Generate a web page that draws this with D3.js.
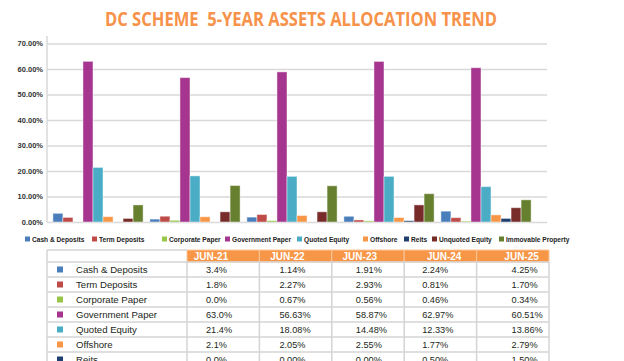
<!DOCTYPE html>
<html>
<head>
<meta charset="utf-8">
<script src="https://cdn.jsdelivr.net/npm/d3@7"></script>
<style>
body { margin: 0; background: #fff; }
svg { display: block; }
</style>
</head>
<body>
<svg id="chart" width="624" height="361"></svg>
<script>
// ---- data ----
const years = ["JUN-21", "JUN-22", "JUN-23", "JUN-24", "JUN-25"];
const seriesNames = ["Cash & Deposits", "Term Deposits", "Corporate Paper", "Government Paper",
    "Quoted Equity", "Offshore", "Reits", "Unquoted Equity", "Immovable Property"];

// bar heights (%)
const cashDeposits = [3.4, 1.14, 1.91, 2.24, 4.25];
const termDeposits = [1.8, 2.27, 2.93, 0.81, 1.70];
const corporatePaper = [0.0, 0.67, 0.56, 0.46, 0.34];
const governmentPaper = [63.0, 56.63, 58.87, 62.97, 60.51];
const quotedEquity = [21.4, 18.08, 17.9, 17.9, 13.86];
const offshore = [2.1, 2.05, 2.55, 1.77, 2.79];
const reits = [0.0, 0.0, 0.0, 0.5, 1.4];
const unquotedEquity = [1.4, 4.0, 4.0, 6.7, 5.6];
const immovableProperty = [6.7, 14.3, 14.2, 11.1, 8.7];

const yTicks = [0, 10, 20, 30, 40, 50, 60, 70];

// table text
const tableRows = ["Cash & Deposits", "Term Deposits", "Corporate Paper", "Government Paper",
    "Quoted Equity", "Offshore", "Reits"];
const tableCash = ["3.4%", "1.14%", "1.91%", "2.24%", "4.25%"];
const tableTerm = ["1.8%", "2.27%", "2.93%", "0.81%", "1.70%"];
const tableCorporate = ["0.0%", "0.67%", "0.56%", "0.46%", "0.34%"];
const tableGovernment = ["63.0%", "56.63%", "58.87%", "62.97%", "60.51%"];
const tableQuoted = ["21.4%", "18.08%", "14.48%", "12.33%", "13.86%"];
const tableOffshore = ["2.1%", "2.05%", "2.55%", "1.77%", "2.79%"];
const tableReits = ["0.0%", "0.00%", "0.00%", "0.50%", "1.50%"];

// ---- styles / layout ----
const colors = ["#4a7ebb", "#be4b48", "#98c649", "#a5358f", "#4bacc6",
    "#f79646", "#1f3f6e", "#772c2a", "#66802f"];
const legendX = [25, 92, 162, 225, 297, 363, 404, 432, 499];
const valueOffset = [19, 20, 24, 18, 35];
const headerOffset = [24, 28, 28, 40, 45];

const allSeries = [cashDeposits, termDeposits, corporatePaper, governmentPaper,
    quotedEquity, offshore, reits, unquotedEquity, immovableProperty];
const tableValues = [tableCash, tableTerm, tableCorporate, tableGovernment,
    tableQuoted, tableOffshore, tableReits];

const svg = d3.select("#chart");
svg.append("rect").attr("width", 624).attr("height", 361).attr("fill", "#fff");

// title (two spaces kept as in the source)
svg.append("text")
    .attr("x", 301).attr("y", 26)
    .attr("text-anchor", "middle")
    .attr("textLength", 392).attr("lengthAdjust", "spacingAndGlyphs")
    .style("white-space", "pre")
    .style("font-family", "'Open Sans', sans-serif")
    .style("font-weight", "bold")
    .style("font-size", "20px")
    .style("fill", "#f7924a")
    .text("DC SCHEME  5-YEAR ASSETS ALLOCATION TREND");

// scales
const y = d3.scaleLinear().domain([0, 70]).range([222, 43.5]);
const x0 = d3.scaleBand().domain(years).range([49.5, 534.5]).paddingInner(0.07).paddingOuter(0.035);
const x1 = d3.scaleBand().domain(d3.range(seriesNames.length)).range([0, x0.bandwidth()]).padding(0);

// grid + y axis
const yAxis = svg.append("g")
    .attr("transform", "translate(47,0)")
    .call(d3.axisLeft(y).tickValues(yTicks).tickSize(-500).tickPadding(4)
        .tickFormat(d => d.toFixed(2) + "%"));
yAxis.select(".domain").remove();
yAxis.selectAll("line").attr("stroke", "#d9d9d9").attr("stroke-width", 1.5);
yAxis.selectAll("text")
    .style("font-family", "'Liberation Sans', Arial, sans-serif")
    .style("font-weight", "bold")
    .style("font-size", "7.5px")
    .style("fill", "#333");

svg.append("line")
    .attr("x1", 47).attr("x2", 47).attr("y1", 36).attr("y2", 222)
    .attr("stroke", "#d9d9d9").attr("stroke-width", 1.5);

// bars
const groups = svg.append("g").selectAll("g")
    .data(years)
    .join("g")
    .attr("transform", d => `translate(${x0(d)},0)`);

groups.selectAll("rect")
    .data((d, gi) => allSeries.map((s, si) => ({ si: si, v: s[gi] })))
    .join("rect")
    .filter(d => d.v > 0)
    .attr("x", d => x1(d.si))
    .attr("y", d => y(d.v))
    .attr("width", x1.bandwidth())
    .attr("height", d => y(0) - y(d.v))
    .attr("fill", d => colors[d.si])
    .attr("stroke", "rgba(255,255,255,0.45)")
    .attr("stroke-width", 1);

// legend
const legend = svg.append("g").selectAll("g")
    .data(seriesNames)
    .join("g")
    .attr("transform", (d, i) => `translate(${legendX[i]},239)`);
legend.append("rect")
    .attr("x", 0).attr("y", -2.5).attr("width", 5).attr("height", 5)
    .attr("fill", (d, i) => colors[i]);
legend.append("text")
    .attr("x", 7).attr("y", 2.5)
    .style("font-family", "'Liberation Sans', Arial, sans-serif")
    .style("font-weight", "bold")
    .style("font-size", "6.6px")
    .style("fill", "#222")
    .text(d => d);

// table
const col = d3.scaleBand().domain(years).range([187, 549]).padding(0);
const headTop = 250, headH = 12, rowH = 15;
const tableG = svg.append("g");

tableG.selectAll("rect.head")
    .data(years)
    .join("rect")
    .attr("class", "head")
    .attr("x", d => col(d)).attr("y", headTop)
    .attr("width", col.bandwidth()).attr("height", headH)
    .attr("fill", "#f79646")
    .attr("stroke", "#fbc79c").attr("stroke-width", 1);

tableG.selectAll("text.head")
    .data(years)
    .join("text")
    .attr("class", "head")
    .attr("x", (d, i) => col(d) + headerOffset[i])
    .attr("y", headTop + 9.5)
    .attr("text-anchor", "middle")
    .style("font-family", "'Liberation Sans', Arial, sans-serif")
    .style("font-weight", "bold")
    .style("font-size", "10px")
    .style("fill", "#fff")
    .text(d => d);

// grid lines of table
const bodyTop = headTop + headH;
const lineCol = "#d4d4d4";
tableG.append("line").attr("x1", 47).attr("x2", 187).attr("y1", headTop).attr("y2", headTop)
    .attr("stroke", lineCol).attr("stroke-width", 1.5);
tableG.append("line").attr("x1", 47).attr("x2", 47).attr("y1", headTop).attr("y2", 361)
    .attr("stroke", lineCol).attr("stroke-width", 1.5);
tableG.selectAll("line.v")
    .data(years.concat(["end"]))
    .join("line")
    .attr("class", "v")
    .attr("x1", (d, i) => 187 + i * col.bandwidth())
    .attr("x2", (d, i) => 187 + i * col.bandwidth())
    .attr("y1", bodyTop).attr("y2", 361)
    .attr("stroke", lineCol).attr("stroke-width", 1.5);
tableG.selectAll("line.h")
    .data(d3.range(tableRows.length + 1))
    .join("line")
    .attr("class", "h")
    .attr("x1", 47).attr("x2", 549)
    .attr("y1", i => bodyTop + i * rowH).attr("y2", i => bodyTop + i * rowH)
    .attr("stroke", lineCol).attr("stroke-width", 1.5);

const rows = tableG.selectAll("g.row")
    .data(tableRows)
    .join("g")
    .attr("class", "row")
    .attr("transform", (d, i) => `translate(0,${bodyTop + i * rowH})`);

rows.append("rect")
    .attr("x", 57).attr("y", 4.5).attr("width", 6).attr("height", 6)
    .attr("fill", (d, i) => colors[i]);

rows.append("text")
    .attr("x", 76).attr("y", 11)
    .style("font-family", "'Liberation Sans', Arial, sans-serif")
    .style("font-size", "9.6px")
    .style("fill", "#231f20")
    .text(d => d);

rows.selectAll("text.val")
    .data((d, i) => tableValues[i])
    .join("text")
    .attr("class", "val")
    .attr("x", (d, j) => col(years[j]) + valueOffset[j])
    .attr("y", 11)
    .style("font-family", "'Liberation Sans', Arial, sans-serif")
    .style("font-size", "9.2px")
    .style("fill", "#231f20")
    .text(d => d);
</script>
</body>
</html>
